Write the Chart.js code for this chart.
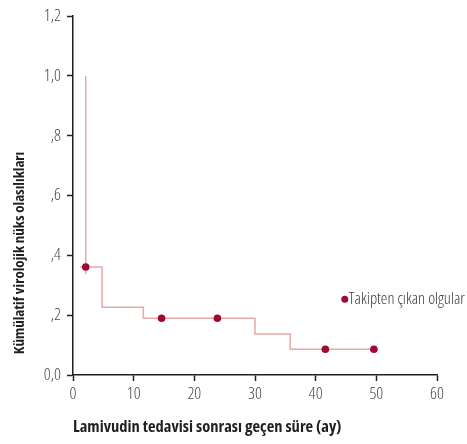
<!DOCTYPE html>
<html>
<head>
<meta charset="utf-8">
<script src="https://cdn.jsdelivr.net/npm/chart.js@4.4.1/dist/chart.umd.min.js"></script>
<style>
  html, body { margin: 0; padding: 0; background: #fff; }
  canvas { display: block; }
</style>
</head>
<body>
<canvas id="kmChart" width="467" height="444"></canvas>
<script>
// ---- Data ----
const stepX = [1.2, 4.8, 11.6, 30.0, 35.8, 49.7];
const stepY = [0.361, 0.227, 0.19, 0.137, 0.086, 0.086];

// vertical line at the start of the curve
const startLineX = [2.1, 2.1];
const startLineY = [1.0, 0.337];

// censored cases (dots)
const censorX = [2.1, 14.6, 23.8, 41.6, 49.6];
const censorY = [0.361, 0.19, 0.19, 0.086, 0.086];

const xTicks = [0, 10, 20, 30, 40, 50, 60];
const yTicks = [0, 0.2, 0.4, 0.6, 0.8, 1.0, 1.2];
const yTickLabels = ['0,0', ',2', ',4', ',6', ',8', '1,0', '1,2'];

const xTitle = 'Lamivudin tedavisi sonrası geçen süre (ay)';
const yTitle = 'Kümülatif virolojik nüks olasılıkları';
const legendLabel = 'Takipten çıkan olgular';
const legendAt = { x: 44.8, y: 0.253 };

const lineColor = '#e9a9a7';
const dotColor = '#9e0a34';
const FAMILY = '"Open Sans", sans-serif';

const toPoints = (xs, ys) => xs.map((x, i) => ({ x: x, y: ys[i] }));

// y-axis title and the small legend are drawn here
const extrasPlugin = {
  id: 'extras',
  afterDraw(chart) {
    const { ctx, scales } = chart;
    ctx.save();
    ctx.font = 'bold condensed 15px ' + FAMILY;
    ctx.fillStyle = '#231f20';
    ctx.textAlign = 'center';
    ctx.textBaseline = 'middle';
    ctx.translate(20, 253);
    ctx.rotate(-Math.PI / 2);
    ctx.fillText(yTitle, 0, 0);
    ctx.restore();

    const lx = scales.x.getPixelForValue(legendAt.x);
    const ly = scales.y.getPixelForValue(legendAt.y);
    ctx.save();
    ctx.fillStyle = dotColor;
    ctx.beginPath();
    ctx.arc(lx, ly, 3.5, 0, Math.PI * 2);
    ctx.fill();
    ctx.font = '300 condensed 16.5px ' + FAMILY;
    ctx.fillStyle = '#3a3a3a';
    ctx.textAlign = 'left';
    ctx.textBaseline = 'middle';
    ctx.fillText(legendLabel, lx + 4, ly);
    ctx.restore();
  }
};

new Chart(document.getElementById('kmChart').getContext('2d'), {
  type: 'scatter',
  data: {
    datasets: [
      {
        type: 'line',
        order: 2,
        data: toPoints(stepX, stepY),
        stepped: 'before',
        borderColor: lineColor,
        borderWidth: 1.5,
        pointRadius: 0,
        fill: false
      },
      {
        type: 'line',
        order: 1,
        data: toPoints(startLineX, startLineY),
        borderColor: lineColor,
        borderWidth: 1.5,
        pointRadius: 0,
        fill: false
      },
      {
        order: 0,
        data: toPoints(censorX, censorY),
        backgroundColor: dotColor,
        borderColor: dotColor,
        pointRadius: 3.8,
        borderWidth: 0
      }
    ]
  },
  options: {
    responsive: false,
    animation: false,
    layout: { padding: { top: 15, right: 30, left: 0, bottom: 0 } },
    plugins: {
      legend: { display: false },
      tooltip: { enabled: false }
    },
    scales: {
      x: {
        type: 'linear',
        min: 0,
        max: 60,
        afterFit: s => { s.height = 69; },
        afterBuildTicks: s => { s.ticks = xTicks.map(v => ({ value: v })); },
        border: { color: '#231f20', width: 1.5 },
        grid: { drawOnChartArea: false, drawTicks: true, tickLength: 6, tickColor: '#231f20', tickWidth: 1.5 },
        ticks: {
          color: '#4a4a4a',
          padding: 3,
          font: { family: FAMILY, size: 17, weight: '300 condensed' }
        },
        title: {
          display: true,
          text: xTitle,
          align: 'start',
          color: '#231f20',
          padding: { top: 0, bottom: 7 },
          font: { family: FAMILY, size: 16.5, weight: 'bold condensed' }
        }
      },
      y: {
        min: 0,
        max: 1.2,
        afterFit: s => { s.width = 73; },
        afterBuildTicks: s => { s.ticks = yTicks.map(v => ({ value: v })); },
        border: { color: '#231f20', width: 1.5 },
        grid: { drawOnChartArea: false, drawTicks: true, tickLength: 6, tickColor: '#231f20', tickWidth: 1.5 },
        ticks: {
          color: '#4a4a4a',
          padding: 6,
          font: { family: FAMILY, size: 17, weight: '300 condensed' },
          callback: (v, i) => yTickLabels[i]
        }
      }
    }
  },
  plugins: [extrasPlugin]
});
</script>
</body>
</html>
